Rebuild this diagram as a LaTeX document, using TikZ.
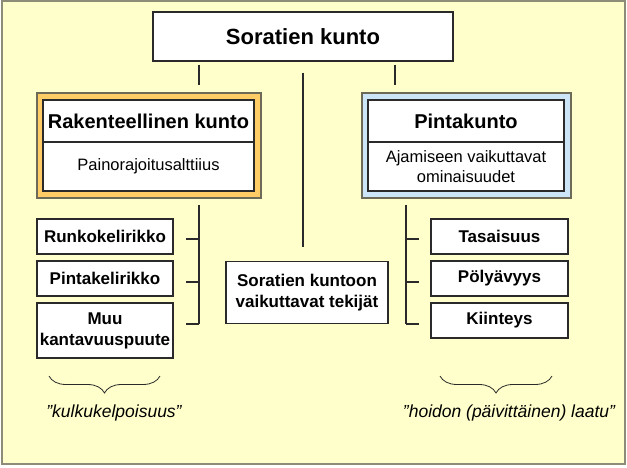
\documentclass[tikz,border=0pt]{standalone}
\usepackage{fontspec}
\setmainfont{Liberation Sans}
\usepackage{tikz}
\usetikzlibrary{decorations.pathreplacing}
\definecolor{bgyellow}{HTML}{FFFFCC}
\definecolor{bandorange}{HTML}{FFCC66}
\definecolor{bandblue}{HTML}{CCE6F8}
\definecolor{framegrey}{HTML}{8C8C78}
\definecolor{bandedge}{HTML}{6E6A58}
\definecolor{linegrey}{HTML}{2A2A2A}

\begin{document}
\begin{tikzpicture}[x=1pt,y=-1pt,
  box/.style={draw=linegrey,line width=1.3pt,fill=white,inner sep=0pt,align=center,font=\bfseries\fontsize{17}{21}\selectfont},
  band/.style={draw=bandedge,line width=1.3pt,inner sep=0pt},
  conn/.style={draw=linegrey,line width=1.3pt},
  brace/.style={draw=linegrey,line width=0.8pt,decorate,decoration={brace,amplitude=17pt}},
  note/.style={font=\itshape\fontsize{17.5}{21}\selectfont}]
  \useasboundingbox (0,0) rectangle (627,468);
  \draw[framegrey,line width=2pt,fill=bgyellow] (1.5,1.5) rectangle (624.5,463.5);

  \coordinate (lsp) at (199,0);
  \coordinate (rsp) at (395,0);

  \node[box,minimum width=300pt,minimum height=49pt,font=\bfseries\fontsize{22}{26}\selectfont] (top) at (303,36.5) {Soratien kunto};

  \node[band,fill=bandorange,minimum width=224pt,minimum height=105pt] (rak) at (149,145.5) {};
  \node[box,minimum width=211pt,minimum height=42pt,font=\bfseries\fontsize{20}{24}\selectfont] (raktit) at (148.5,121) {Rakenteellinen kunto};
  \node[box,minimum width=211pt,minimum height=49pt,font=\fontsize{16.5}{20}\selectfont] (raksub) at (148.5,166.5) {Painorajoitusalttiius};

  \node[band,fill=bandblue,minimum width=209pt,minimum height=105pt] (pin) at (466.5,145.5) {};
  \node[box,minimum width=196pt,minimum height=42pt,font=\bfseries\fontsize{20}{24}\selectfont] (pintit) at (466,121) {Pintakunto};
  \node[box,minimum width=196pt,minimum height=49pt,font=\fontsize{16.5}{20}\selectfont] (pinsub) at (466,166.5) {Ajamiseen vaikuttavat\\ominaisuudet};

  \node[box,minimum width=136pt,minimum height=35pt] (runko) at (105,236.5) {Runkokelirikko};
  \node[box,minimum width=136pt,minimum height=35pt] (pintak) at (105,278.5) {Pintakelirikko};
  \node[box,minimum width=136pt,minimum height=55pt] (muu) at (105,330.5) {Muu\\kantavuuspuute};

  \node[box,minimum width=162pt,minimum height=62pt] (mid) at (307,292.5) {Soratien kuntoon\\vaikuttavat tekijät};

  \node[box,minimum width=137pt,minimum height=35pt] (tas) at (499.5,236.5) {Tasaisuus};
  \node[box,minimum width=137pt,minimum height=35pt] (poly) at (499.5,278.5) {Pölyävyys};
  \node[box,minimum width=137pt,minimum height=35pt] (kiin) at (499.5,320.5) {Kiinteys};

  % from the top box
  \draw[conn,shorten <=3pt,shorten >=7pt] (top.south -| lsp) -- (rak.north -| lsp);
  \draw[conn,shorten <=3pt,shorten >=7pt] (top.south -| rsp) -- (pin.north -| rsp);
  \draw[conn,shorten <=11pt,shorten >=14pt] (top.south) -- (top.south |- mid.north);

  % left and right trees
  \coordinate (ltop) at (199,205);
  \coordinate (lbot) at (199,324);
  \coordinate (rtop) at (406,205);
  \coordinate (rbot) at (406,324);
  \draw[conn] (ltop) -- (lbot);
  \draw[conn] (rtop) -- (rbot);
  \foreach \y in {239,282,324} {
    \draw[conn] (186,\y) -- (199,\y);
    \draw[conn] (406,\y) -- (419,\y);
  }

  \draw[brace] (160,376) -- (49,376);
  \draw[brace] (552,376) -- (440,376);
  \node[note] (lnote) at (114,413) {”kulkukelpoisuus”};
  \node[note] (rnote) at (509,413) {”hoidon (päivittäinen) laatu”};
\end{tikzpicture}
\end{document}
